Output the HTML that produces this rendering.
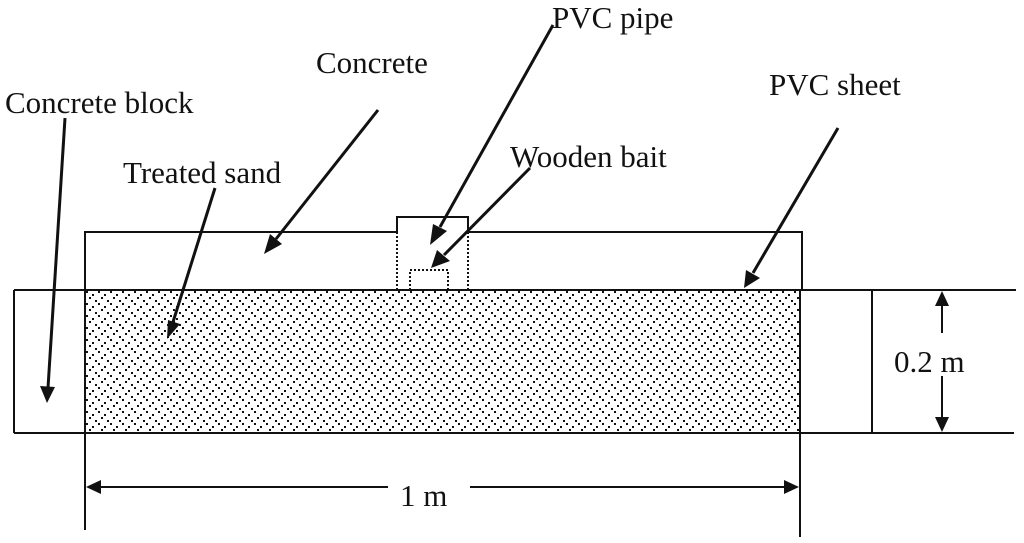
<!DOCTYPE html>
<html><head><meta charset="utf-8"><style>
html,body{margin:0;padding:0;background:#fff;}
svg{display:block;}
text{font-family:"Liberation Serif",serif;font-size:31px;fill:#111;}
</style></head><body>
<svg width="1024" height="543" viewBox="0 0 1024 543" xmlns="http://www.w3.org/2000/svg">
<defs>
<pattern id="dots" x="85" y="290" width="12" height="12" patternUnits="userSpaceOnUse">
<rect x="1" y="1" width="2" height="2" fill="#111"/>
<rect x="7" y="4" width="2" height="2" fill="#111"/>
<rect x="4" y="7" width="2" height="2" fill="#111"/>
<rect x="10" y="10" width="2" height="2" fill="#111"/>
</pattern>
</defs>
<g stroke="#111" stroke-width="2" fill="none">
<rect x="85" y="290" width="715" height="143" fill="url(#dots)" stroke="none"/>
<polyline points="85,290 85,232 397,232 397,217 468,217 468,232 802,232 802,290"/>
<line x1="397" y1="232" x2="397" y2="290" stroke-dasharray="2,2"/>
<line x1="468" y1="232" x2="468" y2="290" stroke-dasharray="2,2"/>
<rect x="410" y="270" width="38" height="20" stroke-dasharray="2,2"/>
<line x1="14" y1="290" x2="1016" y2="290"/>
<line x1="14" y1="433" x2="1014" y2="433"/>
<line x1="14" y1="290" x2="14" y2="433"/>
<line x1="85" y1="232" x2="85" y2="530"/>
<line x1="800" y1="290" x2="800" y2="537"/>
<line x1="872" y1="290" x2="872" y2="433"/>
<line x1="942" y1="305" x2="942" y2="333"/>
<line x1="942" y1="376" x2="942" y2="418"/>
<line x1="100" y1="487" x2="388" y2="487"/>
<line x1="470" y1="487" x2="786" y2="487"/>
<line x1="65" y1="118" x2="48" y2="388" stroke-width="3"/>
<line x1="215" y1="188" x2="173" y2="322" stroke-width="3"/>
<line x1="378" y1="110" x2="276" y2="239" stroke-width="3"/>
<line x1="553" y1="25" x2="440" y2="227" stroke-width="3"/>
<line x1="530" y1="168" x2="444" y2="255" stroke-width="3"/>
<line x1="838" y1="128" x2="753" y2="273" stroke-width="3"/>
</g>
<g fill="#111">
<polygon points="942,291 935,306 949,306"/>
<polygon points="942,432 935,417 949,417"/>
<polygon points="86,487 101,480 101,494"/>
<polygon points="799,487 784,480 784,494"/>
<polygon points="47,403 40,386 55,387"/>
<polygon points="167,339 168,320 180,324"/>
<polygon points="264,254 270,234 282,244"/>
<polygon points="430,245 433,224 447,231"/>
<polygon points="431,268 437,250 450,261"/>
<polygon points="744,288 746,270 760,278"/>
</g>
<text x="5" y="113">Concrete block</text>
<text x="316" y="73">Concrete</text>
<text x="123" y="183">Treated sand</text>
<text x="552" y="28">PVC pipe</text>
<text x="510" y="167">Wooden bait</text>
<text x="769" y="95">PVC sheet</text>
<text x="894" y="372">0.2 m</text>
<text x="400" y="506">1 m</text>
</svg>
</body></html>
